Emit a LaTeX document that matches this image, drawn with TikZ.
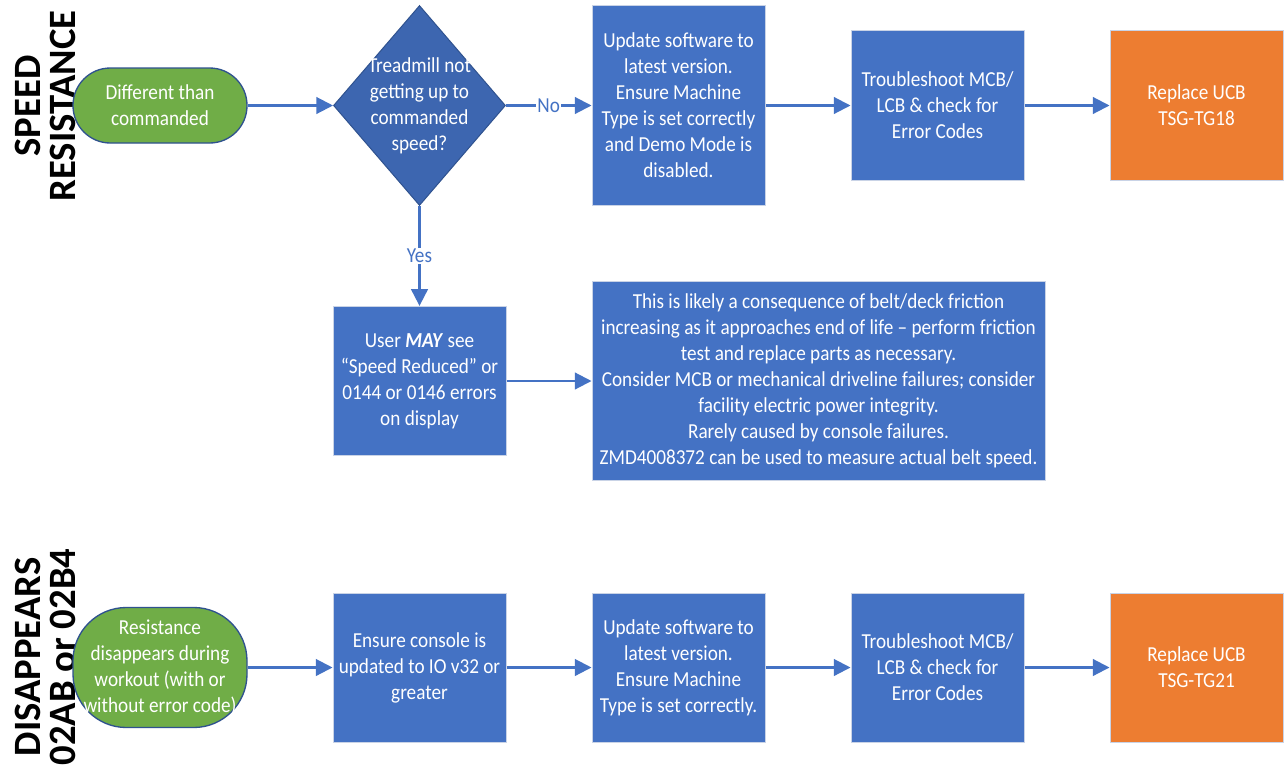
\documentclass[tikz,border=0pt]{standalone}
\usepackage{fontspec}
\setmainfont{Carlito}[FakeStretch=0.9]
\newfontfamily\sidefont{Carlito}
\usetikzlibrary{shapes.geometric,arrows.meta}

\definecolor{boxblue}{HTML}{4472C4}
\definecolor{decblue}{HTML}{3D66B0}
\definecolor{darkedge}{HTML}{2F528F}
\definecolor{lightedge}{HTML}{C9D3E6}
\definecolor{termgreen}{HTML}{70AD47}
\definecolor{endorange}{HTML}{ED7D31}

\tikzset{
  txt/.style={font=\fontsize{16}{19.5}\selectfont, text=white, align=center},
  stepbox/.style={txt, rectangle, fill=boxblue, draw=lightedge, line width=0.75pt,
    inner sep=0pt, minimum width=129.75pt},
  endbox/.style={stepbox, fill=endorange},
  term/.style={txt, rectangle, fill=termgreen, draw=darkedge, line width=1pt,
    inner sep=0pt, minimum width=130.5pt},
  decision/.style={diamond, fill=decblue, draw=darkedge, line width=0.75pt,
    inner sep=0pt, minimum width=129pt, minimum height=150pt},
  flow/.style={draw=boxblue, line width=1.6pt, -{Triangle[length=12.5pt,width=12.5pt]}},
  branch/.style={font=\fontsize{16}{19.5}\selectfont, text=boxblue, fill=white, inner sep=1pt},
  side/.style={font=\sidefont\bfseries\fontsize{29}{26.25}\selectfont, rotate=90,
    align=center, inner sep=0pt}
}

\begin{document}
\begin{tikzpicture}[x=0.75pt, y=-0.75pt]
\fill[white] (0,0) rectangle (1285,772);
\useasboundingbox (0,0) rectangle (1285,772);

% ---- speed / resistance row ----
\node[side] (lblA) at (45,106) {SPEED\\RESISTANCE};
\node[term, minimum height=56.25pt, rounded corners=28pt] (start1) at (160,105.5)
  {Different than\\commanded};
\node[decision, label={[txt]center:{Treadmill not\\getting up to\\commanded\\speed?}}]
  (dec) at (419.5,105.5) {};
\node[stepbox, minimum height=150pt] (sw1) at (678.5,105.5)
  {Update software to\\latest version.\\Ensure Machine\\Type is set correctly\\and Demo Mode is\\disabled.};
\node[stepbox, minimum height=112.5pt] (mcb1) at (937.5,105.5)
  {Troubleshoot MCB/\\LCB \& check for\\Error Codes};
\node[endbox, minimum height=112.5pt] (ucb1) at (1196.5,105.5)
  {Replace UCB\\TSG-TG18};

\node[stepbox, minimum height=112pt] (user) at (419.5,381)
  {User \textbf{\textit{MAY}} see\\“Speed Reduced” or\\0144 or 0146 errors\\on display};
\node[stepbox, minimum width=339.75pt, minimum height=149.25pt] (fric) at (818.5,381)
  {This is likely a consequence of belt/deck friction\\
   increasing as it approaches end of life – perform friction\\
   test and replace parts as necessary.\\
   Consider MCB or mechanical driveline failures; consider\\
   facility electric power integrity.\\
   Rarely caused by console failures.\\
   ZMD4008372 can be used to measure actual belt speed.};

\draw[flow] (start1) -- (dec);
\draw[flow] (dec) -- node[branch] {No} (sw1);
\draw[flow] (sw1) -- (mcb1);
\draw[flow] (mcb1) -- (ucb1);
\draw[flow] (dec) -- node[branch] {Yes} (user);
\draw[flow] (user) -- (fric);

% ---- resistance disappears row ----
\node[side] (lblB) at (45,657) {DISAPPEARS\\02AB or 02B4};
\node[term, minimum height=90pt, rounded corners=40pt] (start2) at (160,667.5)
  {Resistance\\disappears during\\workout (with or\\without error code)};
\node[stepbox, minimum height=111.75pt] (cons) at (419.5,667.5)
  {Ensure console is\\updated to IO v32 or\\greater};
\node[stepbox, minimum height=111.75pt] (sw2) at (678.5,667.5)
  {Update software to\\latest version.\\Ensure Machine\\Type is set correctly.};
\node[stepbox, minimum height=111.75pt] (mcb2) at (937.5,667.5)
  {Troubleshoot MCB/\\LCB \& check for\\Error Codes};
\node[endbox, minimum height=111.75pt] (ucb2) at (1196.5,667.5)
  {Replace UCB\\TSG-TG21};

\draw[flow] (start2) -- (cons);
\draw[flow] (cons) -- (sw2);
\draw[flow] (sw2) -- (mcb2);
\draw[flow] (mcb2) -- (ucb2);
\end{tikzpicture}
\end{document}
